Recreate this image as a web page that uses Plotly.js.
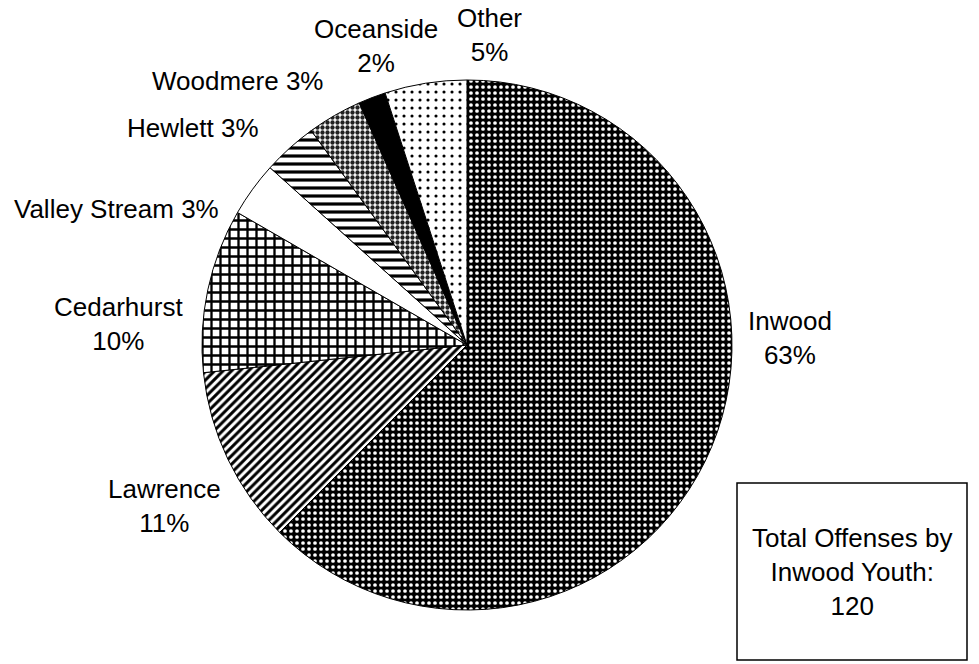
<!DOCTYPE html>
<html>
<head>
<meta charset="utf-8">
<script src="https://cdn.plot.ly/plotly-3.0.1.min.js"></script>
<style>
  html, body { margin: 0; padding: 0; background: #fff; }
  #chart { width: 979px; height: 664px; }
</style>
</head>
<body>
<div id="chart"></div>
<script>
// Offenses by Inwood youth, by community where the offense occurred
const places = ['Inwood', 'Lawrence', 'Cedarhurst', 'Valley Stream', 'Hewlett', 'Woodmere', 'Oceanside', 'Other'];
const offenses = [75, 13, 12, 4, 4, 4, 2, 6];
const boxLines = ['Total Offenses by', 'Inwood Youth:'];

const W = 979, H = 664;
const px = x => x / W;
const py = y => 1 - y / H;

// fill patterns for each slice
const patShape = ['.', '/', '+', '', '-', '.', '', '.'];
const patBg    = ['#000000', '#ffffff', '#ffffff', '#ffffff', '#ffffff', '#ffffff', '#000000', '#ffffff'];
const patFg    = ['#ffffff', '#000000', '#000000', '#000000', '#000000', '#222222', '#000000', '#000000'];
const patSize  = [6, 6, 9, 8, 8, 5, 8, 8];
const patSolid = [0.3, 0.5, 0.45, 0.3, 0.4, 0.6, 0.3, 0.12];

const total = offenses.reduce((a, b) => a + b, 0);
const pct = v => Math.round(v / total * 100) + '%';

// label placement: [centre x, centre y, two-line?]
const labelPlace = [
  [790, 338, true],
  [164, 506, true],
  [118, 324, true],
  [116, 209, false],
  [193, 128, false],
  [238, 81, false],
  [376, 46, true],
  [490, 35, true]
];

const font = { family: 'Arial, "Liberation Sans", sans-serif', size: 26, color: '#000' };

const annotations = places.map((p, i) => {
  const [x, y, two] = labelPlace[i];
  return {
    xref: 'paper', yref: 'paper', x: px(x), y: py(y),
    xanchor: 'center', yanchor: 'middle', align: 'center',
    showarrow: false, font: font,
    text: p + (two ? '<br>' : ' ') + pct(offenses[i])
  };
});

annotations.push({
  xref: 'paper', yref: 'paper', x: px(852), y: py(572),
  xanchor: 'center', yanchor: 'middle', align: 'center',
  showarrow: false, font: font,
  text: boxLines.join('<br>') + '<br>' + total
});

const trace = {
  type: 'pie',
  labels: places,
  values: offenses,
  sort: false,
  direction: 'clockwise',
  rotation: 0,
  textinfo: 'none',
  hoverinfo: 'none',
  showlegend: false,
  domain: { x: [px(202), px(732)], y: [py(610), py(80)] },
  marker: {
    colors: patBg,
    line: { color: '#000', width: 1 },
    pattern: {
      shape: patShape,
      bgcolor: patBg,
      fgcolor: patFg,
      size: patSize,
      solidity: patSolid,
      fillmode: 'replace'
    }
  }
};

const layout = {
  width: W, height: H,
  margin: { l: 0, r: 0, t: 0, b: 0 },
  paper_bgcolor: '#fff',
  plot_bgcolor: '#fff',
  showlegend: false,
  annotations: annotations,
  shapes: [{
    type: 'rect', xref: 'paper', yref: 'paper',
    x0: px(737), x1: px(967), y0: py(660), y1: py(483),
    line: { color: '#000', width: 1.5 }, fillcolor: 'rgba(0,0,0,0)'
  }]
};

Plotly.newPlot('chart', [trace], layout, { displayModeBar: false, staticPlot: true });
</script>
</body>
</html>
